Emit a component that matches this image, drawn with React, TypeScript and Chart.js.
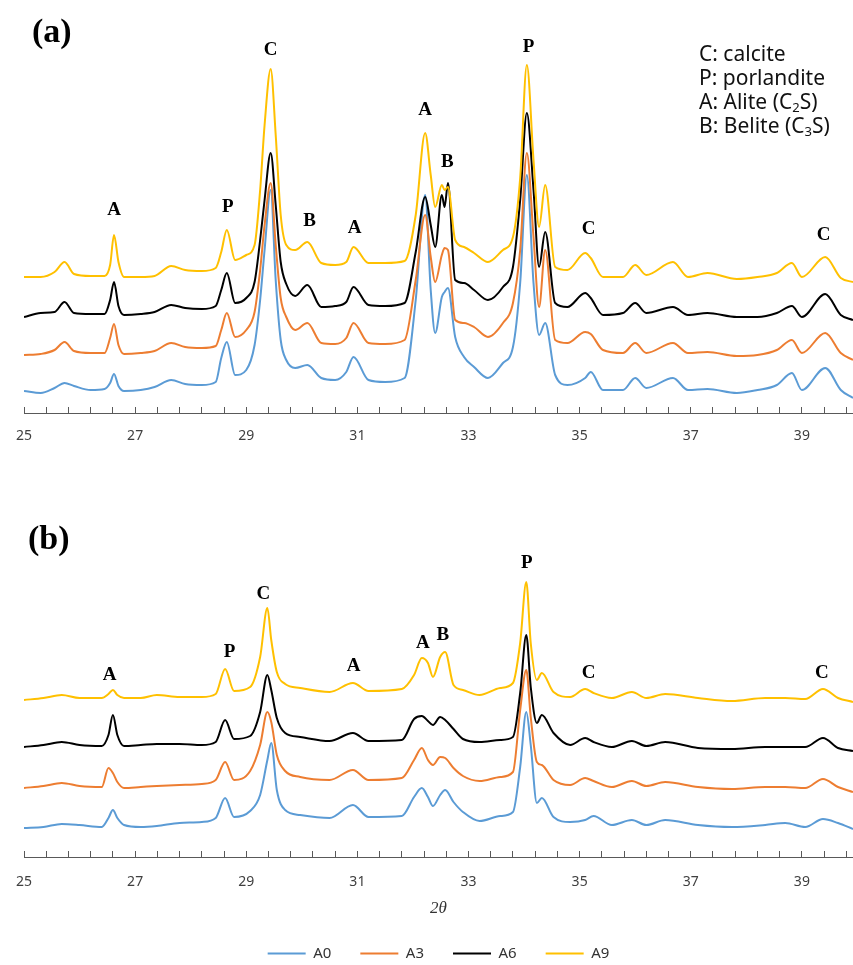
import React, { useEffect, useRef } from "react";
import { Chart, registerables } from "chart.js";

Chart.register(...registerables);

// ---------- shared ----------
const SERIES_NAMES = ["A0", "A3", "A6", "A9"];
const SERIES_COLORS = ["#5B9BD5", "#ED7D31", "#000000", "#FFC000"];
const MAJOR_TICKS = [25, 27, 29, 31, 33, 35, 37, 39];
const MINOR_TICK_STEP = 0.4;
const X_MIN = 25;
const X_MAX = 39.92;
const X_TITLE = "2θ";
const KEY_LINES = [
  ["C: calcite", "", ""],
  ["P: porlandite", "", ""],
  ["A: Alite (C", "2", "S)"],
  ["B: Belite (C", "3", "S)"],
];

// ---------- panel (a) ----------
const TWO_THETA_A = [25.0, 25.3, 25.55, 25.73, 25.9, 26.2, 26.45, 26.55, 26.62, 26.7, 26.8, 27.1, 27.35, 27.65, 27.9, 28.2, 28.45, 28.55, 28.65, 28.8, 29.0, 29.15, 29.25, 29.33, 29.44, 29.53, 29.62, 29.72, 29.88, 30.1, 30.35, 30.6, 30.8, 30.93, 31.2, 31.5, 31.85, 32.05, 32.22, 32.32, 32.4, 32.52, 32.57, 32.63, 32.76, 32.92, 33.1, 33.35, 33.62, 33.8, 33.93, 34.05, 34.17, 34.27, 34.38, 34.56, 34.78, 35.1, 35.2, 35.42, 35.78, 36.0, 36.2, 36.68, 36.95, 37.3, 37.83, 38.2, 38.55, 38.82, 39.0, 39.42, 39.7, 39.92];
const A_A0 = [22, 20, 25, 30, 27, 23, 24, 30, 39, 27, 22, 23, 26, 33, 29, 28, 31, 55, 71, 38, 43, 68, 113, 163, 223, 133, 73, 53, 45, 48, 35, 33, 41, 56, 33, 31, 35, 113, 218, 123, 80, 116, 121, 125, 76, 56, 46, 35, 50, 66, 130, 238, 130, 78, 90, 38, 28, 35, 41, 23, 23, 35, 25, 35, 23, 24, 20, 23, 28, 40, 23, 45, 23, 15];
const A_A3 = [58, 59, 63, 71, 62, 60, 60, 75, 89, 68, 59, 60, 62, 70, 66, 65, 67, 83, 100, 76, 83, 101, 143, 188, 230, 168, 115, 96, 83, 90, 70, 69, 75, 90, 70, 69, 73, 133, 198, 156, 131, 158, 165, 163, 93, 90, 86, 76, 90, 110, 163, 260, 176, 106, 163, 73, 70, 81, 79, 63, 60, 70, 60, 70, 60, 61, 57, 58, 63, 73, 60, 80, 60, 53];
const A_A6 = [96, 100, 101, 111, 100, 99, 99, 113, 131, 107, 98, 99, 101, 108, 105, 104, 107, 123, 140, 110, 115, 131, 173, 213, 260, 208, 151, 129, 117, 128, 106, 107, 111, 126, 108, 107, 110, 161, 216, 188, 166, 218, 206, 230, 133, 130, 123, 113, 126, 146, 213, 300, 223, 146, 181, 110, 106, 120, 115, 98, 100, 110, 100, 106, 98, 100, 96, 96, 100, 107, 96, 119, 98, 93];
const A_A9 = [136, 136, 141, 151, 139, 137, 137, 148, 178, 151, 136, 136, 137, 147, 143, 142, 145, 161, 183, 153, 158, 168, 223, 288, 344, 278, 198, 168, 163, 171, 150, 148, 151, 166, 150, 150, 152, 198, 280, 238, 206, 228, 223, 226, 173, 166, 160, 151, 163, 176, 235, 348, 253, 186, 228, 146, 143, 160, 155, 136, 136, 148, 138, 151, 136, 140, 134, 136, 140, 150, 136, 156, 135, 131];
const PEAK_LABELS_A = ["A", "P", "C", "B", "A", "A", "B", "P", "C", "C"];
const PEAK_THETA_A = [26.62, 28.67, 29.44, 30.14, 30.95, 32.22, 32.62, 34.08, 35.16, 39.39];
const PEAK_LEVEL_A = [203, 206, 363, 192, 185, 303, 251, 366, 184, 178];
const Y_MAX_A = 413;

// ---------- panel (b) ----------
const TWO_THETA_B = [25.0, 25.35, 25.68, 26.0, 26.4, 26.52, 26.6, 26.68, 26.8, 27.1, 27.39, 27.8, 28.2, 28.45, 28.62, 28.78, 29.07, 29.25, 29.38, 29.45, 29.55, 29.7, 29.97, 30.5, 30.92, 31.2, 31.8, 32.02, 32.16, 32.27, 32.36, 32.49, 32.58, 32.73, 32.9, 33.2, 33.57, 33.8, 33.93, 34.04, 34.12, 34.23, 34.32, 34.53, 34.83, 35.1, 35.25, 35.58, 35.94, 36.2, 36.54, 37.13, 37.74, 38.34, 38.7, 39.06, 39.38, 39.65, 39.92];
const B_A0 = [29, 30, 33, 32, 30, 39, 47, 39, 32, 30, 31, 34, 35, 39, 59, 40, 46, 62, 97, 114, 67, 47, 42, 39, 52, 40, 41, 60, 69, 60, 51, 62, 67, 55, 45, 36, 41, 45, 90, 145, 112, 54, 59, 40, 35, 37, 41, 32, 37, 32, 37, 32, 30, 32, 34, 30, 38, 34, 28];
const B_A3 = [69, 71, 74, 71, 70, 89, 84, 75, 69, 70, 71, 72, 73, 77, 95, 77, 86, 112, 145, 135, 102, 86, 80, 77, 87, 77, 79, 97, 109, 97, 92, 100, 99, 89, 81, 76, 80, 85, 147, 187, 140, 95, 92, 77, 72, 79, 76, 70, 76, 71, 75, 70, 68, 70, 70, 69, 78, 70, 65];
const B_A6 = [110, 112, 115, 112, 111, 122, 142, 122, 111, 112, 113, 113, 112, 115, 137, 118, 121, 145, 182, 167, 139, 124, 120, 116, 124, 116, 117, 138, 141, 136, 132, 140, 137, 128, 118, 115, 117, 120, 164, 222, 170, 134, 142, 124, 112, 119, 115, 110, 116, 111, 115, 109, 108, 110, 110, 110, 119, 109, 106];
const B_A9 = [157, 159, 162, 159, 159, 163, 167, 162, 159, 159, 162, 160, 160, 163, 188, 166, 170, 200, 249, 217, 185, 173, 169, 165, 174, 166, 168, 182, 199, 194, 180, 200, 205, 172, 167, 162, 169, 174, 214, 275, 214, 177, 184, 165, 160, 168, 164, 159, 165, 159, 163, 159, 156, 159, 159, 158, 168, 159, 155];
const PEAK_LABELS_B = ["A", "P", "C", "A", "A", "B", "P", "C", "C"];
const PEAK_THETA_B = [26.54, 28.7, 29.31, 30.93, 32.18, 32.54, 34.05, 35.16, 39.36];
const PEAK_LEVEL_B = [182, 205, 263, 191, 214, 222, 294, 184, 184];
const Y_MAX_B = 407;

// ---------- helpers ----------
const TICK_VALUES = MAJOR_TICKS.flatMap((m) =>
  [0, 1, 2, 3, 4].map((k) => Math.round((m + k * MINOR_TICK_STEP) * 10) / 10)
).filter((v) => v <= X_MAX);

function buildDatasets(theta: number[], series: number[][]) {
  return series.map((vals, i) => ({
    label: SERIES_NAMES[i],
    data: theta.map((x, j) => ({ x, y: vals[j] })),
    borderColor: SERIES_COLORS[i],
    backgroundColor: SERIES_COLORS[i],
    borderWidth: 2,
    pointRadius: 0,
    cubicInterpolationMode: "monotone" as const,
    order: series.length - 1 - i,
  }));
}

function peakPlugin(labels: string[], thetas: number[], levels: number[]) {
  return {
    id: "peakLabels",
    afterDatasetsDraw(chart: any) {
      const { ctx, scales } = chart;
      ctx.save();
      ctx.font = "bold 19px 'Liberation Serif', 'DejaVu Serif', serif";
      ctx.fillStyle = "#000";
      ctx.textAlign = "center";
      ctx.textBaseline = "middle";
      labels.forEach((t, i) => {
        ctx.fillText(t, scales.x.getPixelForValue(thetas[i]), scales.y.getPixelForValue(levels[i]));
      });
      ctx.restore();
    },
  };
}

function xScale(labelPad: number, axisHeight: number, withTitle: boolean) {
  return {
    type: "linear" as const,
    min: X_MIN,
    max: X_MAX,
    afterBuildTicks: (s: any) => {
      s.ticks = TICK_VALUES.map((v) => ({ value: v }));
    },
    afterFit: (s: any) => {
      s.height = axisHeight;
      s.paddingLeft = 0;
      s.paddingRight = 0;
    },
    ticks: {
      autoSkip: false,
      maxRotation: 0,
      minRotation: 0,
      padding: labelPad,
      color: "#404040",
      font: { family: "'Noto Sans', 'DejaVu Sans', sans-serif", size: 14 },
      callback: (v: any) => (MAJOR_TICKS.includes(Math.round(Number(v) * 10) / 10) ? String(Math.round(Number(v))) : ""),
    },
    grid: {
      display: true,
      drawOnChartArea: false,
      drawTicks: true,
      tickLength: -6,
      tickColor: "#595959",
      lineWidth: 1,
    },
    border: { display: true, color: "#595959", width: 1 },
    title: {
      display: withTitle,
      text: X_TITLE,
      color: "#333",
      font: { family: "'Liberation Serif', 'DejaVu Serif', serif", size: 17, style: "italic" as const, lineHeight: 1 },
      padding: { top: 0, bottom: 0 },
    },
  };
}

export default function App() {
  const refA = useRef<HTMLCanvasElement>(null);
  const refB = useRef<HTMLCanvasElement>(null);

  useEffect(() => {
    const chartA = new Chart(refA.current as HTMLCanvasElement, {
      type: "line",
      data: { datasets: buildDatasets(TWO_THETA_A, [A_A0, A_A3, A_A6, A_A9]) as any },
      options: {
        animation: false,
        responsive: false,
        maintainAspectRatio: false,
        layout: { padding: { left: 24, right: 0, top: 0, bottom: 0 } },
        plugins: { legend: { display: false }, tooltip: { enabled: false } },
        scales: {
          x: xScale(21, 37, false) as any,
          y: { display: false, min: 0, max: Y_MAX_A },
        },
      },
      plugins: [peakPlugin(PEAK_LABELS_A, PEAK_THETA_A, PEAK_LEVEL_A)],
    });

    const chartB = new Chart(refB.current as HTMLCanvasElement, {
      type: "line",
      data: { datasets: buildDatasets(TWO_THETA_B, [B_A0, B_A3, B_A6, B_A9]) as any },
      options: {
        animation: false,
        responsive: false,
        maintainAspectRatio: false,
        layout: { padding: { left: 24, right: 0, top: 0, bottom: 0 } },
        plugins: {
          tooltip: { enabled: false },
          legend: {
            display: true,
            position: "bottom",
            labels: {
              usePointStyle: true,
              pointStyle: "line",
              pointStyleWidth: 38,
              padding: 29,
              color: "#333",
              font: { family: "'Noto Sans', 'DejaVu Sans', sans-serif", size: 15 },
              sort: (a: any, b: any) => a.datasetIndex - b.datasetIndex,
            },
          },
        },
        scales: {
          x: xScale(23, 60, true) as any,
          y: { display: false, min: 0, max: Y_MAX_B },
        },
      },
      plugins: [peakPlugin(PEAK_LABELS_B, PEAK_THETA_B, PEAK_LEVEL_B)],
    });

    return () => {
      chartA.destroy();
      chartB.destroy();
    };
  }, []);

  const panelLabel: React.CSSProperties = {
    position: "absolute",
    font: "bold 34px 'Liberation Serif', 'DejaVu Serif', serif",
    lineHeight: "34px",
    color: "#000",
    margin: 0,
  };

  return (
    <div style={{ position: "absolute", left: 0, top: 0, width: 853, height: 965, overflow: "hidden", background: "#fff" }}>
      <canvas ref={refA} width={853} height={450} style={{ position: "absolute", left: 0, top: 0, width: 853, height: 450 }} />
      <canvas ref={refB} width={853} height={521} style={{ position: "absolute", left: 0, top: 450, width: 853, height: 521 }} />
      <div style={{ ...panelLabel, left: 32, top: 14 }}>(a)</div>
      <div style={{ ...panelLabel, left: 28, top: 521 }}>(b)</div>
      <div
        style={{
          position: "absolute",
          left: 699,
          top: 41,
          font: "21px 'Noto Sans', 'DejaVu Sans', sans-serif",
          lineHeight: "24px",
          color: "#111",
          whiteSpace: "nowrap",
        }}
      >
        {KEY_LINES.map((l, i) => (
          <div key={i} style={{ height: 24 }}>
            {l[0]}
            {l[1] ? <sub style={{ fontSize: "0.62em", lineHeight: 0, verticalAlign: "-0.25em" }}>{l[1]}</sub> : null}
            {l[2]}
          </div>
        ))}
      </div>
    </div>
  );
}
